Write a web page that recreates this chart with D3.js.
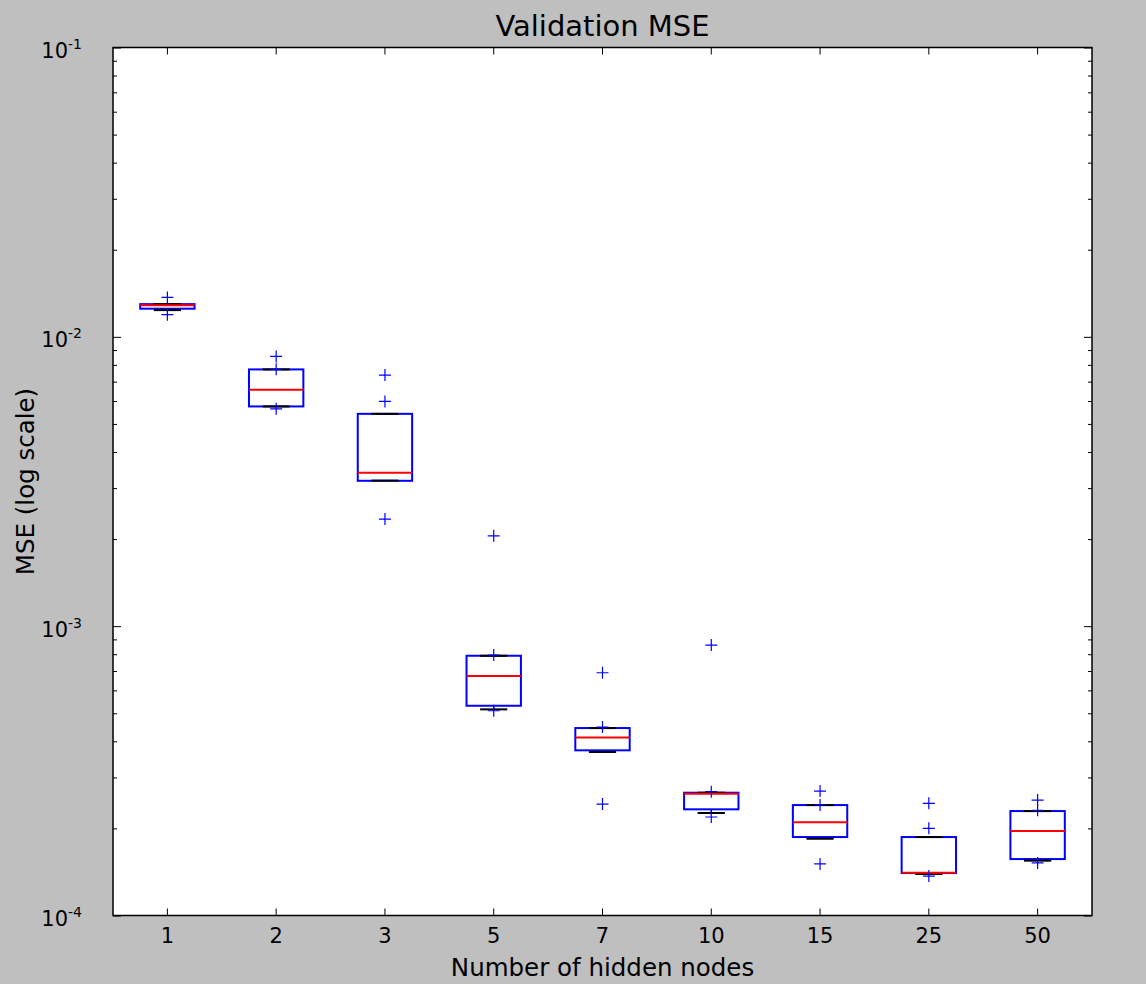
<!DOCTYPE html>
<html>
<head>
<meta charset="utf-8">
<script src="https://cdn.jsdelivr.net/npm/d3@7"></script>
<style>
  html, body { margin: 0; padding: 0; background: #bfbfbf; }
  svg { display: block; font-family: "DejaVu Sans", sans-serif; }
</style>
</head>
<body>
<svg id="chart" width="1146" height="984"></svg>
<script>
// Hidden-node counts on the x axis
const nodes = ["1", "2", "3", "5", "7", "10", "15", "25", "50"];

// Box statistics of validation MSE per network size
const q1 = [0.01251, 0.005747, 0.00318, 0.0005308, 0.0003723, 0.0002328, 0.0001867, 0.0001402, 0.0001567];
const median = [0.01287, 0.00656, 0.003389, 0.0006725, 0.0004127, 0.0002636, 0.0002099, 0.0001405, 0.0001959];
const q3 = [0.01297, 0.007716, 0.005418, 0.0007902, 0.0004445, 0.0002657, 0.0002408, 0.0001867, 0.0002296];
const whiskerLow = [0.01237, 0.005747, 0.003185, 0.0005158, 0.0003673, 0.0002261, 0.0001842, 0.0001391, 0.0001547];
const whiskerHigh = [0.01297, 0.007716, 0.005418, 0.0007902, 0.0004445, 0.0002657, 0.0002408, 0.0001867, 0.0002296];
const fliers = [
  [0.01368, 0.01193],
  [0.008555, 0.00772, 0.005638],
  [0.007374, 0.00598, 0.002345],
  [0.002053, 0.000795, 0.0005101],
  [0.0006902, 0.000448, 0.0002428],
  [0.0008604, 0.0002678, 0.000219],
  [0.0002692, 0.000241, 0.0001507],
  [0.0002441, 0.0002001, 0.0001369],
  [0.0002506, 0.000231, 0.000152]
];

// Log-axis decades
const majorTicks = [1e-4, 1e-3, 1e-2, 1e-1];
const majorExponents = ["-4", "-3", "-2", "-1"];

const plot = { left: 113, right: 1092, top: 47.5, bottom: 915.5 };
const svg = d3.select("#chart");

const x = d3.scaleBand().domain(nodes).range([plot.left, plot.right]).padding(0);
const y = d3.scaleLog().domain([1e-4, 1e-1]).range([plot.bottom, plot.top]);

const minorTicks = [];
for (let e = -4; e < -1; e++) {
  for (let m = 2; m <= 9; m++) minorTicks.push(m * Math.pow(10, e));
}

// Plot area
svg.append("rect")
  .attr("x", plot.left).attr("y", plot.top)
  .attr("width", plot.right - plot.left).attr("height", plot.bottom - plot.top)
  .attr("fill", "#ffffff");

const cx = d => x(d) + x.bandwidth() / 2;
const boxW = x.bandwidth() * 0.5;
const capW = boxW * 0.5;

const g = svg.append("g");
nodes.forEach((n, i) => {
  const c = cx(n);
  // whiskers
  g.append("line").attr("x1", c).attr("x2", c)
    .attr("y1", y(q3[i])).attr("y2", y(whiskerHigh[i]))
    .attr("stroke", "#0000ff").attr("stroke-width", 1.5).attr("stroke-dasharray", "6,4");
  g.append("line").attr("x1", c).attr("x2", c)
    .attr("y1", y(q1[i])).attr("y2", y(whiskerLow[i]))
    .attr("stroke", "#0000ff").attr("stroke-width", 1.5).attr("stroke-dasharray", "6,4");
  // box
  g.append("rect")
    .attr("x", c - boxW / 2).attr("width", boxW)
    .attr("y", y(q3[i])).attr("height", y(q1[i]) - y(q3[i]))
    .attr("fill", "none").attr("stroke", "#0000ff").attr("stroke-width", 2);
  // caps
  [whiskerLow[i], whiskerHigh[i]].forEach(v => {
    g.append("line").attr("x1", c - capW / 2).attr("x2", c + capW / 2)
      .attr("y1", y(v)).attr("y2", y(v))
      .attr("stroke", "#000000").attr("stroke-width", 2);
  });
  // median
  g.append("line").attr("x1", c - boxW / 2).attr("x2", c + boxW / 2)
    .attr("y1", y(median[i])).attr("y2", y(median[i]))
    .attr("stroke", "#ff0000").attr("stroke-width", 2);
  // outliers
  fliers[i].forEach(v => {
    const py = y(v), s = 6;
    g.append("path")
      .attr("d", `M${c - s},${py}H${c + s}M${c},${py - s}V${py + s}`)
      .attr("stroke", "#0000ff").attr("stroke-width", 1.2).attr("fill", "none");
  });
});

// Axes: ticks point inward on all four sides
function styleAxis(sel) {
  sel.select(".domain").remove();
  sel.selectAll(".tick line").attr("stroke", "#000").attr("stroke-width", 1);
}

const tickFont = 21;

// bottom
svg.append("g").attr("transform", `translate(0,${plot.bottom})`)
  .call(d3.axisBottom(x).tickSizeInner(-7).tickSizeOuter(0).tickPadding(13))
  .call(styleAxis)
  .call(s => s.selectAll("text").attr("font-size", tickFont).attr("fill", "#000")
    .attr("font-family", "DejaVu Sans"));
// top
svg.append("g").attr("transform", `translate(0,${plot.top})`)
  .call(d3.axisTop(x).tickSizeInner(-7).tickSizeOuter(0).tickFormat(""))
  .call(styleAxis);

// left major with power-of-ten labels
svg.append("g").attr("transform", `translate(${plot.left},0)`)
  .call(d3.axisLeft(y).tickValues(majorTicks).tickSizeInner(-8).tickSizeOuter(0).tickPadding(31))
  .call(styleAxis)
  .call(s => s.selectAll("text").each(function(d, i) {
    const t = d3.select(this).text(null)
      .attr("font-family", "DejaVu Sans").attr("fill", "#000")
      .attr("text-anchor", "end").attr("dy", "0.48em").attr("font-size", tickFont);
    t.append("tspan").text("10");
    t.append("tspan").attr("dy", "-0.65em").attr("font-size", 14).text(majorExponents[i]);
  }));
// left minor
svg.append("g").attr("transform", `translate(${plot.left},0)`)
  .call(d3.axisLeft(y).tickValues(minorTicks).tickSizeInner(-4).tickSizeOuter(0).tickFormat(""))
  .call(styleAxis);
// right major and minor
svg.append("g").attr("transform", `translate(${plot.right},0)`)
  .call(d3.axisRight(y).tickValues(majorTicks).tickSizeInner(-8).tickSizeOuter(0).tickFormat(""))
  .call(styleAxis);
svg.append("g").attr("transform", `translate(${plot.right},0)`)
  .call(d3.axisRight(y).tickValues(minorTicks).tickSizeInner(-4).tickSizeOuter(0).tickFormat(""))
  .call(styleAxis);

// Frame
svg.append("rect")
  .attr("x", plot.left).attr("y", plot.top)
  .attr("width", plot.right - plot.left).attr("height", plot.bottom - plot.top)
  .attr("fill", "none").attr("stroke", "#000").attr("stroke-width", 1.5);

// Labels
svg.append("text")
  .attr("x", (plot.left + plot.right) / 2).attr("y", 36)
  .attr("text-anchor", "middle").attr("font-size", 29).attr("fill", "#000")
  .text("Validation MSE");
svg.append("text")
  .attr("x", (plot.left + plot.right) / 2).attr("y", 976)
  .attr("text-anchor", "middle").attr("font-size", 24.5).attr("fill", "#000")
  .text("Number of hidden nodes");
svg.append("text")
  .attr("transform", `translate(34,${(plot.top + plot.bottom) / 2}) rotate(-90)`)
  .attr("text-anchor", "middle").attr("font-size", 24.5).attr("fill", "#000")
  .text("MSE (log scale)");
</script>
</body>
</html>
